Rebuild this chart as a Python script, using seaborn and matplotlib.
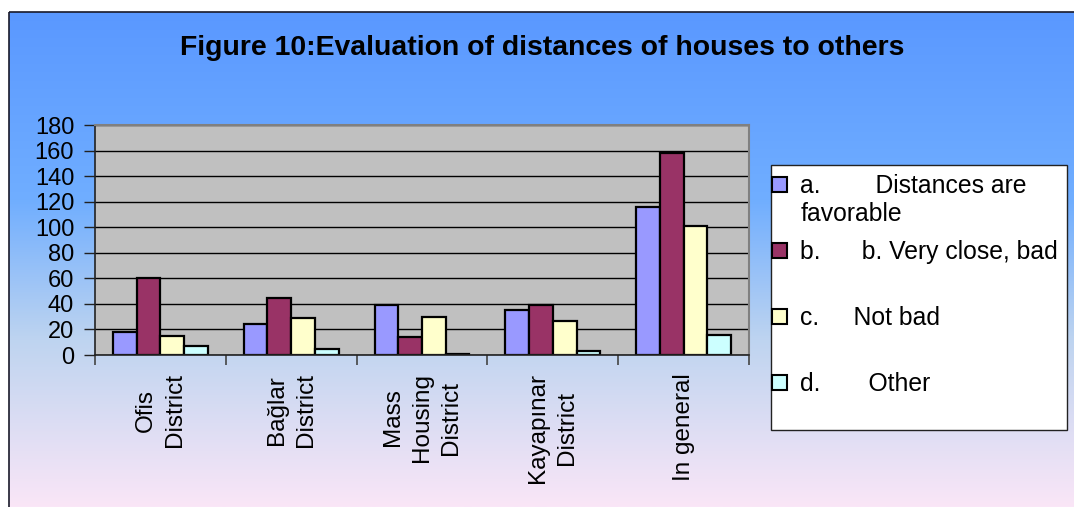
import numpy as np
import pandas as pd
import matplotlib
matplotlib.use("Agg")
import matplotlib.pyplot as plt
from matplotlib.patches import Rectangle
import seaborn as sns

categories = ["Ofis\nDistrict", "Bağlar\nDistrict", "Mass\nHousing\nDistrict",
              "Kayapınar\nDistrict", "In general"]
series_names = ["a.        Distances are", "b.      b. Very close, bad",
                "c.     Not bad", "d.       Other"]
vals_a = [18, 24, 39, 35, 116]
vals_b = [60, 45, 14, 39, 158]
vals_c = [15, 29, 30, 27, 101]
vals_d = [7, 5, 1, 3, 16]
colors = ["#9999ff", "#993366", "#ffffcc", "#ccffff"]
title = "Figure 10:Evaluation of distances of houses to others"
yticks = [0, 20, 40, 60, 80, 100, 120, 140, 160, 180]

rows = []
for s, vals in zip(series_names, [vals_a, vals_b, vals_c, vals_d]):
    for c, v in zip(categories, vals):
        rows.append({"cat": c, "series": s, "value": v})
df = pd.DataFrame(rows)

sns.set_style("white")
plt.rcParams["font.family"] = ["Liberation Sans", "DejaVu Sans"]
plt.rcParams["text.color"] = "black"
plt.rcParams["xtick.color"] = "black"
plt.rcParams["ytick.color"] = "black"

W, H = 1074, 507
fig = plt.figure(figsize=(W / 100, H / 100), dpi=100)
fig.patch.set_facecolor("white")

# background gradient inside frame
bg = fig.add_axes([0, 0, 1, 1], zorder=-10)
bg.set_xlim(0, W)
bg.set_ylim(H, 0)
bg.axis("off")
stops_y = np.array([12, 200, 340, 507])
stops_c = np.array([[90, 152, 255], [112, 174, 255], [190, 212, 240], [250, 230, 247]]) / 255
yy = np.linspace(12, H, 400)
grad = np.stack([np.interp(yy, stops_y, stops_c[:, k]) for k in range(3)], axis=1)[:, None, :]
bg.imshow(grad, extent=[9, W + 5, H, 12], aspect="auto", zorder=0)
bg.add_patch(Rectangle((9, 12), W, H, fill=False, edgecolor="#1a1a2a", linewidth=1.2, zorder=1))

# main axes
x0, x1, y0, y1 = 95, 749, 125, 355
ax = fig.add_axes([x0 / W, (H - y1) / H, (x1 - x0) / W, (y1 - y0) / H])
sns.barplot(data=df, x="cat", y="value", hue="series", order=categories,
            hue_order=series_names, palette=colors, width=0.725,
            edgecolor="black", linewidth=1.6, saturation=1, legend=False, ax=ax)
ax.set_facecolor("#c0c0c0")
ax.set_xlim(-0.5, len(categories) - 0.5)
ax.set_ylim(0, 180)
ax.set_yticks(yticks)
ax.yaxis.grid(True, color="black", linewidth=1)
ax.set_axisbelow(True)
ax.set_xlabel("")
ax.set_ylabel("")
for sp in ["left", "bottom"]:
    ax.spines[sp].set_color("#222222")
    ax.spines[sp].set_linewidth(1.2)
for sp in ["top", "right"]:
    ax.spines[sp].set_color("#808080")
    ax.spines[sp].set_linewidth(1.5)
ax.tick_params(axis="y", which="major", direction="out", length=8, width=1,
               color="#222222", labelsize=17, pad=7, left=True)
ax.tick_params(axis="x", which="major", length=0, labelsize=17.5, pad=13)
ax.set_xticks(np.arange(len(categories)))
ax.set_xticklabels(categories, rotation=90)
for lab in ax.get_xticklabels():
    lab.set_multialignment("center")
    lab.set_linespacing(1.4)
    lab.set_va("top")
ax.set_xticks(np.arange(-0.5, len(categories)), minor=True)
ax.tick_params(axis="x", which="minor", direction="out", length=7, width=1.2,
               color="#444444", bottom=True)

# title
fig.text(542 / W, 1 - 48 / H, title, ha="center", va="center",
         fontsize=20.4, fontweight="bold", color="black")

# legend box
bg.add_patch(Rectangle((771, 165), 296, 265, facecolor="white",
                       edgecolor="#222222", linewidth=1, zorder=2))
handles = [Rectangle((0, 0), 1, 1, facecolor=c, edgecolor="black", linewidth=1.5)
           for c in colors]
leg = fig.legend(handles, series_names, loc="upper left",
                 bbox_to_anchor=(772 / W, 1 - 174 / H), frameon=False,
                 fontsize=17.8, handlelength=0.6, handleheight=0.55,
                 handletextpad=0.55, labelspacing=1.7, borderpad=0,
                 borderaxespad=0)
texts = leg.get_texts()
fig.canvas.draw()
ann = ax.annotate("favorable", xy=(0, 0), xycoords=texts[0], xytext=(0, -4),
                  textcoords="offset pixels", ha="left", va="top", fontsize=17.8,
                  annotation_clip=False)

fig.savefig("out.png", dpi=100)
